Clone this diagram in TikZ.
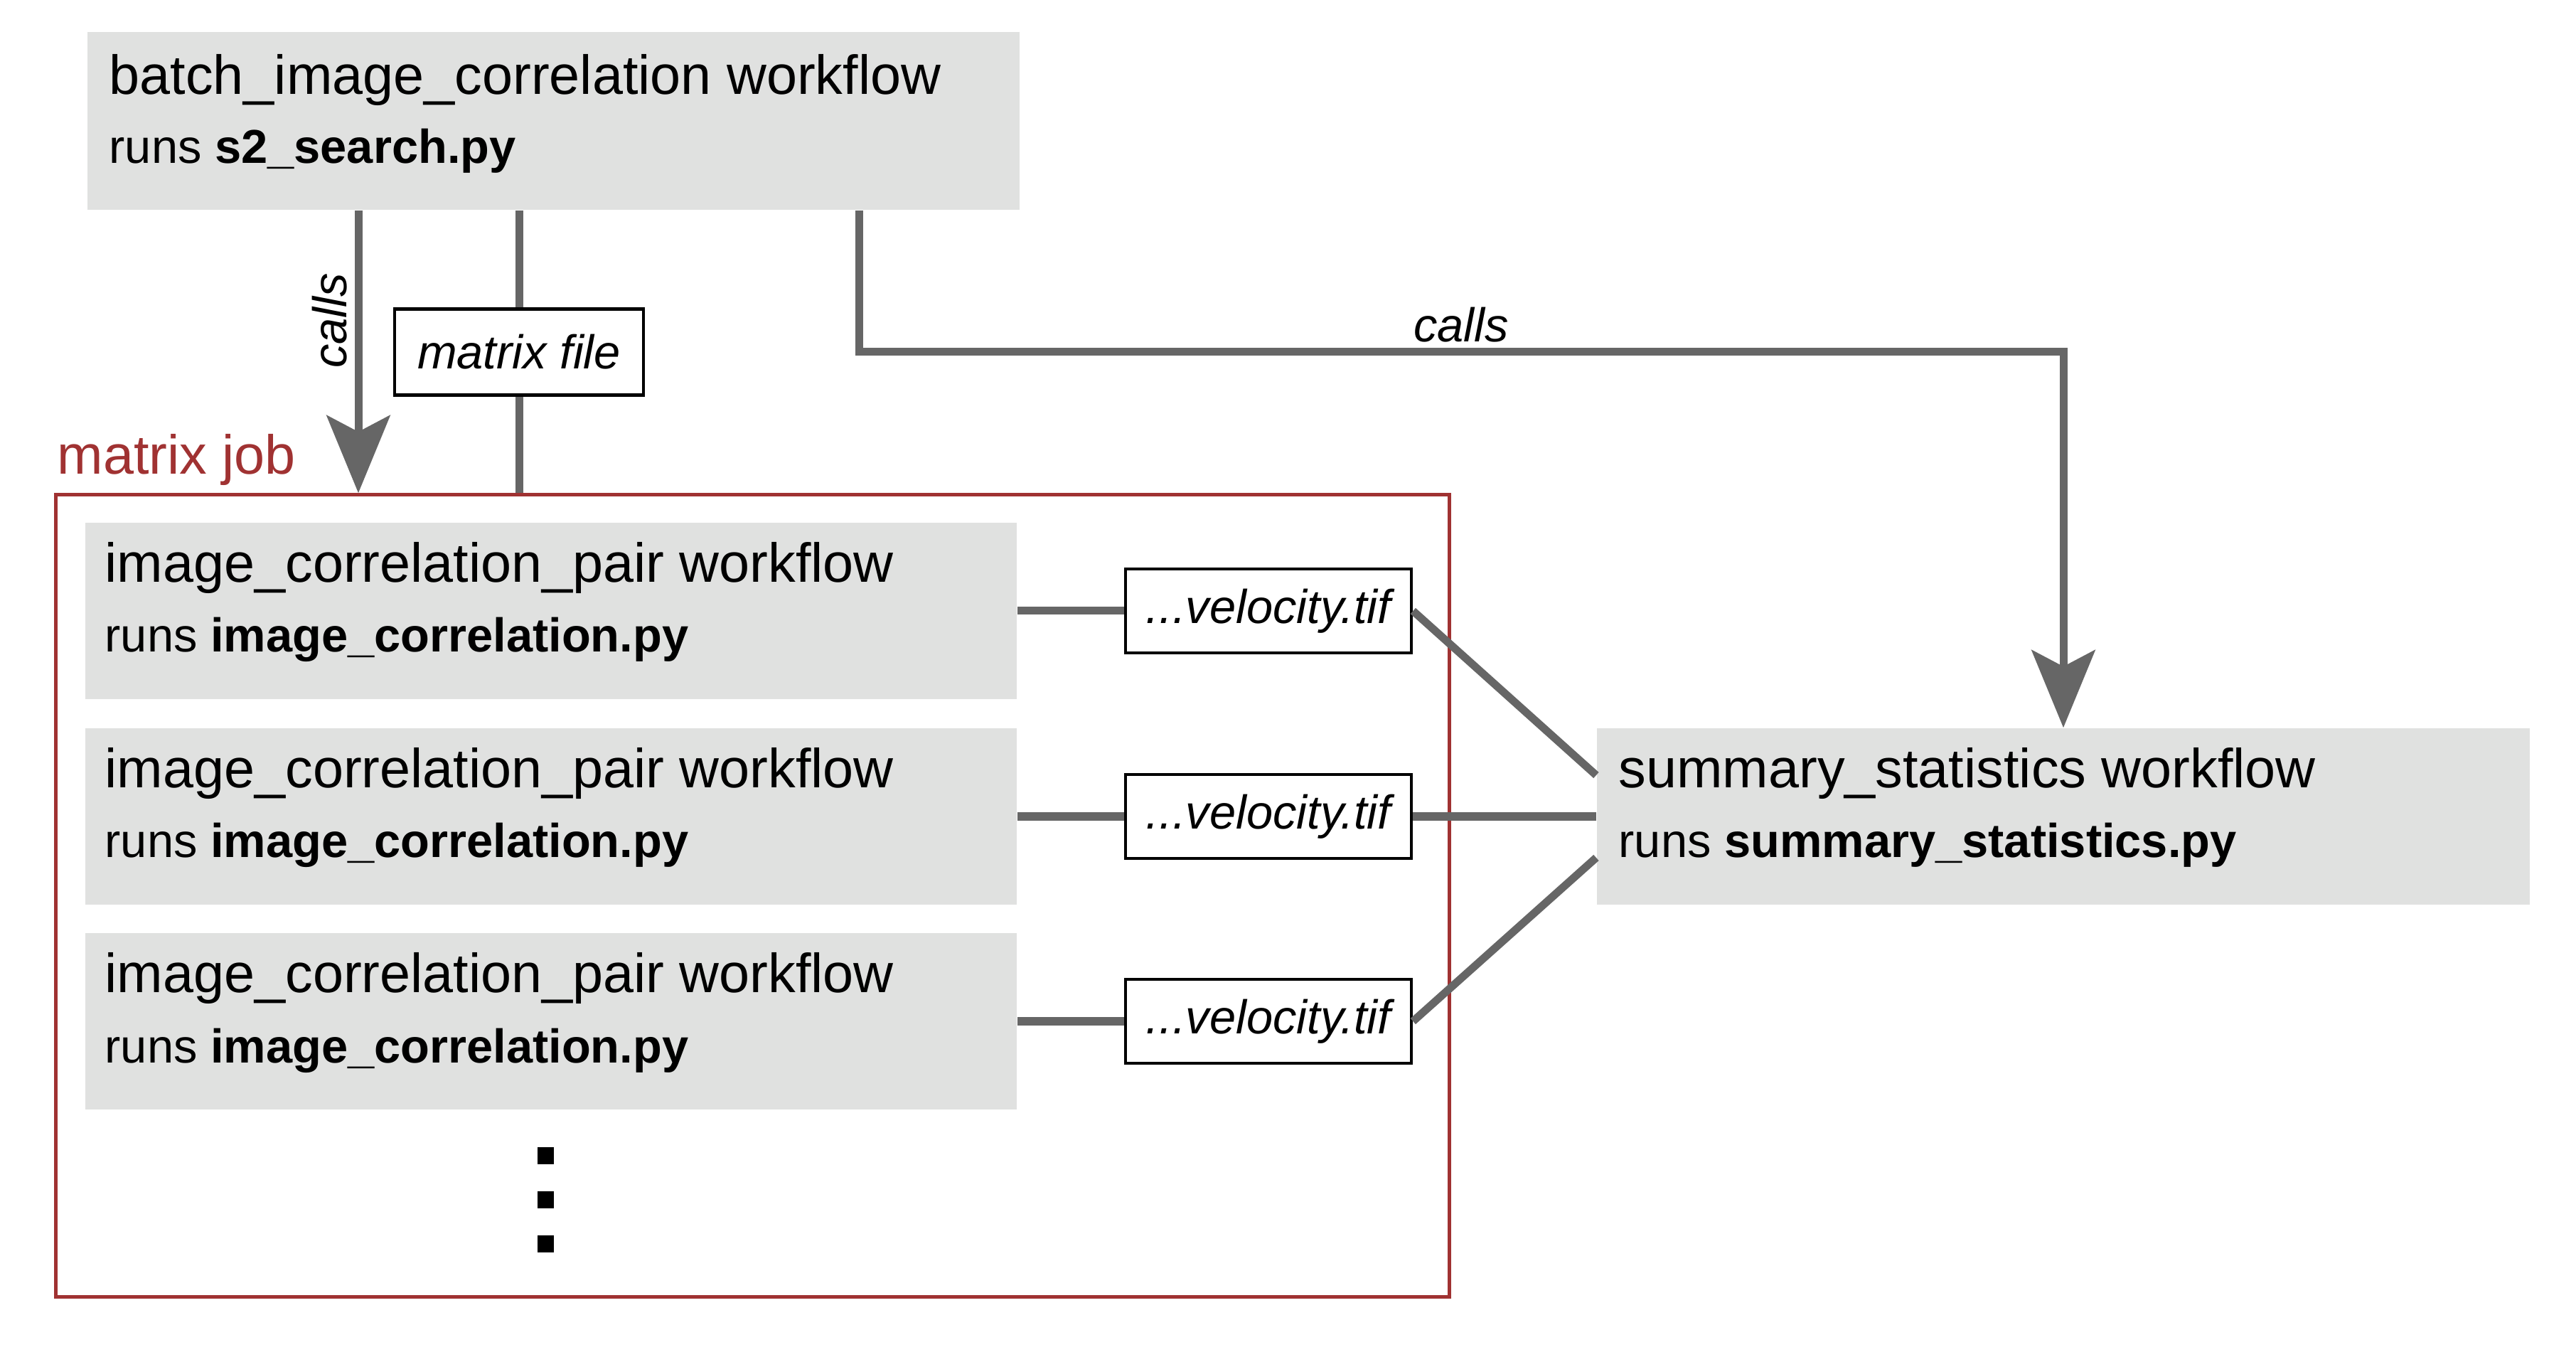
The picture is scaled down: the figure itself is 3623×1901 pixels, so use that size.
\documentclass[tikz,border=0pt]{standalone}
\usepackage{fontspec}
\setmainfont{Liberation Sans}
\usetikzlibrary{arrows.meta,calc}
\definecolor{boxgray}{HTML}{E0E1E0}
\definecolor{linegray}{HTML}{666666}
\definecolor{jobred}{HTML}{A03232}
\begin{document}
\begin{tikzpicture}[x=0.01cm,y=-0.01cm,
  wfbox/.style={fill=boxgray, draw=none, inner sep=0, minimum width=13.1cm, minimum height=2.48cm},
  titletext/.style={anchor=base west, inner sep=0, font=\fontsize{22}{26}\selectfont},
  subtext/.style={anchor=base west, inner sep=0, font=\fontsize{19}{23}\selectfont},
  filebox/.style={draw=black, line width=1.25pt, fill=white, inner sep=0, minimum height=1.18cm, font=\fontsize{19}{23}\selectfont\itshape},
  conn/.style={draw=linegray, line width=0.11cm},
  arr/.style={conn, -{Stealth[length=1.09cm, width=0.89cm, inset=0.23cm]}},
  lbl/.style={inner sep=0, font=\fontsize{19}{23}\selectfont\itshape},
  dot/.style={fill=black, inner sep=0, minimum size=0.23cm}
]
\useasboundingbox (0,0) rectangle (3623,1901);

% top workflow
\node[wfbox, minimum width=13.11cm, minimum height=2.50cm] (top) at (778.5,170) {};
\node[titletext] (topt1) at (153,133) {batch\_image\_correlation workflow};
\node[subtext] (topt2) at (153,230) {runs \textbf{s2\_search.py}};

% matrix job
\node[draw=jobred, line width=1.4pt, inner sep=0, minimum width=19.59cm, minimum height=11.27cm] (mj) at (1058.5,1259.5) {};
\node[titletext, text=jobred] (mjl) at (80,667) {matrix job};

% pair workflows
\foreach \i/\t in {1/735,2/1024,3/1312}{
  \node[wfbox] (p\i) at (775,\t+124) {};
  \node[titletext] (p\i t1) at (147,\t+84) {image\_correlation\_pair workflow};
  \node[subtext] (p\i t2) at (147,\t+182) {runs \textbf{image\_correlation.py}};
}

% summary workflow
\node[wfbox, minimum width=13.12cm] (sum) at (2902,1148) {};
\node[titletext] (sumt1) at (2276,1108) {summary\_statistics workflow};
\node[subtext] (sumt2) at (2276,1206) {runs \textbf{summary\_statistics.py}};

% velocity files
\node[filebox, minimum width=4.02cm] (v1) at (p1.east -| 1784,0) {...velocity.tif};
\node[filebox, minimum width=4.02cm] (v2) at (p2.east -| 1784,0) {...velocity.tif};
\node[filebox, minimum width=4.02cm] (v3) at (p3.east -| 1784,0) {...velocity.tif};

% matrix file
\node[filebox, minimum width=3.5cm, minimum height=1.21cm] (mf) at (730,495) {matrix file};

% dots
\node[dot] (d1) at (767,1625) {};
\node[dot] (d2) at (767,1687) {};
\node[dot] (d3) at (767,1749) {};

% connectors
\draw[arr] (top.south -| 504,0) -- (mj.north -| 504,0);
\node[lbl, rotate=90] (callsv) at (464,451) {calls};

\draw[conn] (top.south -| mf.north) -- (mf.north);
\draw[conn] (mf.south) -- (mj.north -| mf.south);

\draw[arr] (top.south -| 1208,0) -- (1208,495) -- (2902,495) -- (sum.north);
\node[lbl] (callsh) at (2055,457) {calls};

\foreach \i in {1,2,3}{
  \draw[conn] (p\i.east) -- (v\i.west);
}
\draw[conn] (v1.east) -- ($(sum.west)+(0,-58)$);
\draw[conn] (v2.east) -- (sum.west);
\draw[conn] (v3.east) -- ($(sum.west)+(0,58)$);
\end{tikzpicture}
\end{document}
